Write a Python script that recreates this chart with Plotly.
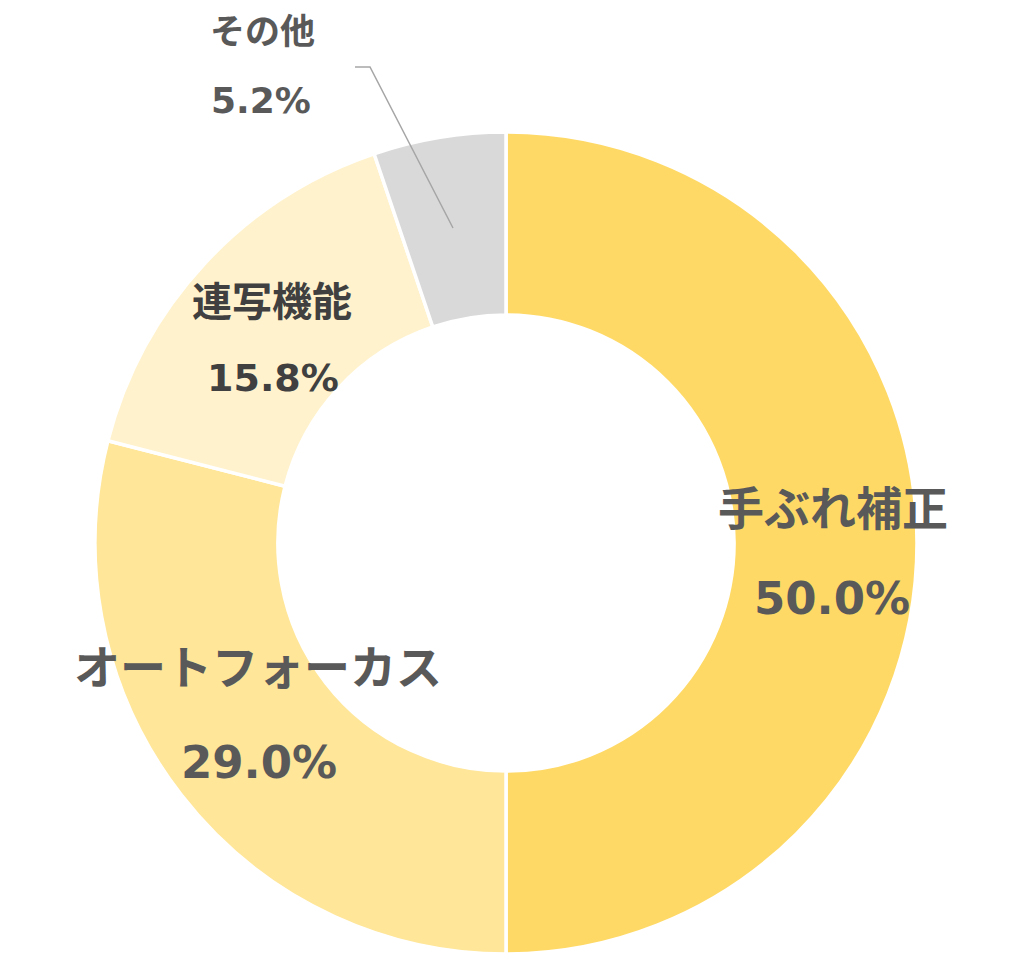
import plotly.graph_objects as go

categories = ["手ぶれ補正", "オートフォーカス", "連写機能", "その他"]
values = [50.0, 29.0, 15.8, 5.2]
colors = ["#FFD966", "#FFE699", "#FFF2CC", "#D9D9D9"]

W, H = 1024, 976
cx, cy, R = 506, 543, 411

fig = go.Figure(go.Pie(
    labels=categories,
    values=values,
    sort=False,
    direction="clockwise",
    rotation=0,
    hole=0.555,
    marker=dict(colors=colors, line=dict(color="#FFFFFF", width=3.5)),
    textinfo="none",
    showlegend=False,
    domain=dict(x=[(cx - R) / W, (cx + R) / W], y=[1 - (cy + R) / H, 1 - (cy - R) / H]),
))

# label layout: (name center px, pct center px, font sizes, color)
label_pos = [
    (833, 509, 832, 598, 46, 45, "#595959"),
    (258, 668, 259, 762, 46, 45, "#595959"),
    (272, 302, 273, 378, 40, 38, "#404040"),
    (262, 32, 261, 100, 35, 36, "#595959"),
]
font_fam = "DejaVu Sans, Noto Sans CJK JP, sans-serif"
for (nx, ny, px, py, fs1, fs2, col), name, v in zip(label_pos, categories, values):
    fig.add_annotation(x=nx / W, y=1 - ny / H, xref="paper", yref="paper", text=f"<b>{name}</b>",
                       showarrow=False, font=dict(family=font_fam, size=fs1, color=col),
                       xanchor="center", yanchor="middle")
    fig.add_annotation(x=px / W, y=1 - py / H, xref="paper", yref="paper", text=f"<b>{v:.1f}%</b>",
                       showarrow=False, font=dict(family=font_fam, size=fs2, color=col),
                       xanchor="center", yanchor="middle")

# leader line for その他
pts = [(355, 67), (370, 67), (453, 228)]
path = "M " + " L ".join(f"{x / W},{1 - y / H}" for x, y in pts)
fig.add_shape(type="path", path=path, xref="paper", yref="paper",
              line=dict(color="#A6A6A6", width=1.5))

fig.update_layout(
    width=W, height=H,
    margin=dict(l=0, r=0, t=0, b=0),
    paper_bgcolor="#FFFFFF",
    plot_bgcolor="#FFFFFF",
)
fig.write_html("out.html")
